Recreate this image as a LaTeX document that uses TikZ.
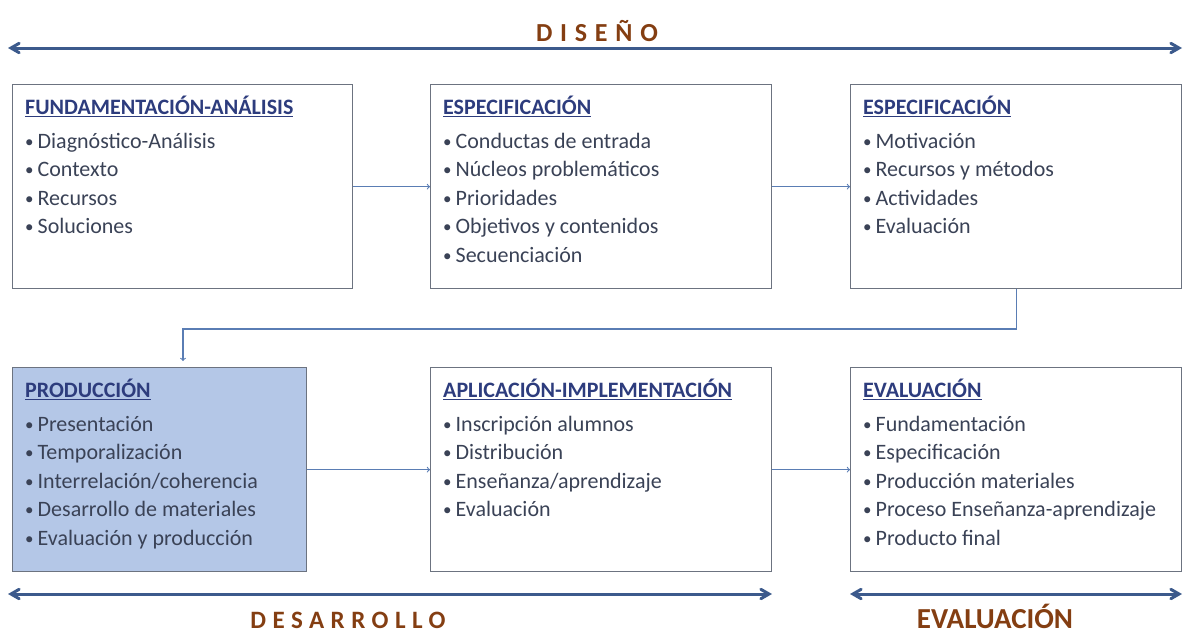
\documentclass[tikz,border=0pt]{standalone}
\usepackage{fontspec}
\setmainfont{Carlito}
\usetikzlibrary{arrows}
\definecolor{phaseBrown}{RGB}{132,62,18}
\definecolor{titleBlue}{RGB}{45,60,125}
\definecolor{itemGray}{RGB}{58,66,86}
\definecolor{frameGray}{RGB}{108,115,128}
\definecolor{linkBlue}{RGB}{90,125,180}
\definecolor{bigBlue}{RGB}{60,90,140}
\definecolor{prodFill}{RGB}{180,199,231}
\newcommand{\boxtitle}[1]{\textbf{\color{titleBlue}\underline{#1}}\\[5pt]}
\newcommand{\itm}{\raisebox{1pt}{\fontsize{17}{17}\selectfont •}\hspace{4pt}}

\begin{document}
\begin{tikzpicture}[x=1pt, y=-1pt]
	\tikzstyle{boxStyle} = [shape = rectangle, draw = frameGray, line width = 1.3pt, anchor = north west, inner sep = 0pt, minimum height = 204pt]
	\tikzstyle{shadedStyle} = [boxStyle, fill = prodFill]
	\tikzstyle{textStyle} = [anchor = north west, inner sep = 0pt, align = left, text = itemGray, font = \fontsize{22}{28.5}\selectfont]
	\tikzstyle{linkStyle} = [draw = linkBlue, line width = 1.1pt, ->, >=to]
	\tikzstyle{phaseArrowStyle} = [draw = bigBlue, line width = 3pt, <->, >={angle 60}]
	\tikzstyle{phaseStyle} = [text = phaseBrown, font = \fontsize{26}{30}\selectfont\bfseries\addfontfeature{LetterSpace=30}]
	\useasboundingbox (0,0) rectangle (1186,633);
	% phases
	\coordinate (dl) at (8,48);
	\coordinate (dr) at (1182,48);
	\draw[phaseArrowStyle] (dl) -- (dr);
	\node[phaseStyle] (diseno) at (597,31) {DISEÑO};
	% first row
	\node[boxStyle, minimum width = 340pt] (f1) at (12,84) {};
	\node[boxStyle, minimum width = 341pt] (f2) at (430,84) {};
	\node[boxStyle, minimum width = 331pt] (f3) at (850,84) {};
	\node[textStyle] (t1) at (25,96) {\boxtitle{FUNDAMENTACIÓN-ANÁLISIS}%
		\itm Diagnóstico-Análisis\\ \itm Contexto\\ \itm Recursos\\ \itm Soluciones};
	\node[textStyle] (t2) at (443,96) {\boxtitle{ESPECIFICACIÓN}%
		\itm Conductas de entrada\\ \itm Núcleos problemáticos\\ \itm Prioridades\\ \itm Objetivos y contenidos\\ \itm Secuenciación};
	\node[textStyle] (t3) at (863,96) {\boxtitle{ESPECIFICACIÓN}%
		\itm Motivación\\ \itm Recursos y métodos\\ \itm Actividades\\ \itm Evaluación};
	% second row
	\node[shadedStyle, minimum width = 294pt] (p1) at (12,367) {};
	\node[boxStyle, minimum width = 341pt] (p2) at (430,367) {};
	\node[boxStyle, minimum width = 331pt] (p3) at (850,367) {};
	\node[textStyle] (u1) at (25,379) {\boxtitle{PRODUCCIÓN}%
		\itm Presentación\\ \itm Temporalización\\ \itm Interrelación/coherencia\\ \itm Desarrollo de materiales\\ \itm Evaluación y producción};
	\node[textStyle] (u2) at (443,379) {\boxtitle{APLICACIÓN-IMPLEMENTACIÓN}%
		\itm Inscripción alumnos\\ \itm Distribución\\ \itm Enseñanza/aprendizaje\\ \itm Evaluación};
	\node[textStyle] (u3) at (863,379) {\boxtitle{EVALUACIÓN}%
		\itm Fundamentación\\ \itm Especificación\\ \itm Producción materiales\\ \itm Proceso Enseñanza-aprendizaje\\ \itm Producto final};
	% links
	\draw[linkStyle] (f1.east) -- (f2.west);
	\draw[linkStyle] (f2.east) -- (f3.west);
	\coordinate (bend) at (183,329);
	\draw[linkStyle] (f3.south) |- (bend) -- ([yshift = 6pt]bend |- p1.north);
	\draw[linkStyle] (p1.east) -- (p2.west);
	\draw[linkStyle] (p2.east) -- (p3.west);
	% bottom phases
	\coordinate (al) at (8,594);
	\coordinate (ar) at (772,594);
	\coordinate (bl) at (850,594);
	\coordinate (br) at (1182,594);
	\draw[phaseArrowStyle] (al) -- (ar);
	\draw[phaseArrowStyle] (bl) -- (br);
	\node[phaseStyle, font = \fontsize{25}{30}\selectfont\bfseries\addfontfeature{LetterSpace=26}, anchor = base] (desarrollo) at (348,628) {DESARROLLO};
	\node[text = phaseBrown, font = \fontsize{29}{30}\selectfont\bfseries, anchor = base] (evaluacion) at (995,628) {EVALUACIÓN};
\end{tikzpicture}
\end{document}
